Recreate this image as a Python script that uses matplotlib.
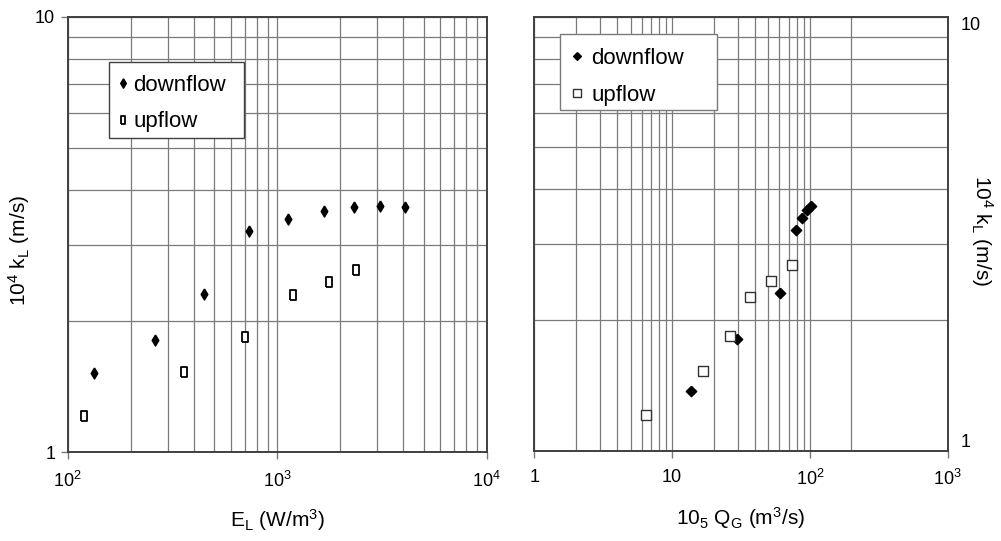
import numpy as np
import matplotlib
matplotlib.use("Agg")
import matplotlib.pyplot as plt
from matplotlib.patches import Rectangle
from matplotlib.ticker import FixedLocator, FixedFormatter, NullFormatter

plt.rcParams['font.family'] = ['Liberation Sans', 'DejaVu Sans']
plt.rcParams['mathtext.fontset'] = 'custom'
plt.rcParams['mathtext.rm'] = 'Liberation Sans'
plt.rcParams['mathtext.it'] = 'Liberation Sans'
plt.rcParams['mathtext.default'] = 'regular'

# --- data ---
# left panel: k_L against power input E_L
el_down = [134, 261, 449, 731, 1131, 1667, 2326, 3095, 4093]
kl_el_down = [1.52, 1.81, 2.31, 3.23, 3.44, 3.59, 3.66, 3.67, 3.66]
el_up = [120, 358, 702, 1195, 1761, 2388]
kl_el_up = [1.21, 1.53, 1.84, 2.30, 2.46, 2.62]

# right panel: k_L against gas flow Q_G
qg_down = [13.6, 29.7, 61.0, 79.3, 88.1, 95.3, 102.4]
kl_qg_down = [1.375, 1.81, 2.31, 3.23, 3.44, 3.59, 3.67]
qg_up = [6.47, 16.8, 26.2, 36.9, 52.5, 74.5]
kl_qg_up = [1.21, 1.53, 1.84, 2.26, 2.46, 2.68]

left_xticks = [1e2, 1e3, 1e4]
right_xticks = [1, 10, 100, 1000]
right_xticklabels = ['1', '10', '$10^2$', '$10^3$']
yticks = [1, 10]
yticklabels = ['1', '10']
right_xminor = [2, 3, 4, 5, 6, 7, 8, 9, 20, 30, 40, 50, 60, 70, 80, 90, 200]

# marker shapes
thin_diamond = [(0, 1), (0.6, 0), (0, -1), (-0.6, 0), (0, 1)]
thin_rect = [(-0.55, -1), (0.55, -1), (0.55, 1), (-0.55, 1), (-0.55, -1)]
diamond = [(0, 1), (1, 0), (0, -1), (-1, 0), (0, 1)]
square = [(-1, -1), (1, -1), (1, 1), (-1, 1), (-1, -1)]

GRID = '#7a7a7a'
SPINE = '#404040'

fig = plt.figure(figsize=(10.01, 5.41), dpi=100)
ax1 = fig.add_axes([0.0676, 0.1636, 0.4186, 0.8055])
ax2 = fig.add_axes([0.5338, 0.1669, 0.4130, 0.8022])


def style(ax):
    ax.set_xscale('log')
    ax.set_yscale('log')
    ax.set_ylim(1, 10)
    ax.yaxis.set_major_locator(FixedLocator(yticks))
    ax.yaxis.set_major_formatter(FixedFormatter(yticklabels))
    ax.yaxis.set_minor_locator(FixedLocator([2, 3, 4, 5, 6, 7, 8, 9]))
    ax.yaxis.set_minor_formatter(NullFormatter())
    ax.grid(True, which='both', color=GRID, linewidth=0.9)
    ax.set_axisbelow(True)
    for s in ax.spines.values():
        s.set_color(SPINE)
        s.set_linewidth(1.4)
    ax.tick_params(which='minor', length=0)
    ax.tick_params(which='major', length=5, width=1, color=GRID, labelsize=13)


def legend_box(ax, x0, y0, x1, y1, edge):
    # plain white box behind the legend entries, like the spreadsheet one
    ax.add_patch(Rectangle((x0, y0), x1 - x0, y1 - y0, transform=ax.transAxes,
                           facecolor='white', edgecolor=edge, linewidth=1.0,
                           zorder=4.5, clip_on=False))


# left panel
style(ax1)
ax1.set_xlim(1e2, 1e4)
ax1.xaxis.set_major_locator(FixedLocator(left_xticks))
ax1.xaxis.set_minor_locator(FixedLocator([m * d for d in (100, 1000) for m in range(2, 10)]))
ax1.xaxis.set_minor_formatter(NullFormatter())
ax1.tick_params(axis='x', which='major', pad=8)
ax1.tick_params(axis='y', which='major', pad=4)
ax1.plot(el_down, kl_el_down, linestyle='none', marker=thin_diamond, markersize=8,
         color='black', label='downflow')
ax1.plot(el_up, kl_el_up, linestyle='none', marker=thin_rect, markersize=7.5,
         markerfacecolor='white', markeredgecolor='black', markeredgewidth=1.3, label='upflow')
ax1.set_xlabel('E$_L$ (W/m$^3$)', fontsize=15, labelpad=12)
ax1.set_ylabel('10$^4$ k$_L$ (m/s)', fontsize=15)
ax1.yaxis.set_label_coords(-0.085, 0.463)
legend_box(ax1, 0.0986, 0.7217, 0.421, 0.896, SPINE)
ax1.legend(loc='upper left', bbox_to_anchor=(0.0986, 0.887), fontsize=16,
           frameon=False, handlelength=0.5, handletextpad=0.2, labelspacing=0.7,
           borderpad=0.4, borderaxespad=0, markerscale=0.85)

# right panel
style(ax2)
ax2.set_xlim(1, 1000)
ax2.xaxis.set_major_locator(FixedLocator(right_xticks))
ax2.xaxis.set_major_formatter(FixedFormatter(right_xticklabels))
ax2.xaxis.set_minor_locator(FixedLocator(right_xminor))
ax2.xaxis.set_minor_formatter(NullFormatter())
ax2.yaxis.tick_right()
ax2.yaxis.set_label_position('right')
ax2.tick_params(axis='y', which='major', length=0, pad=9)
ax2.tick_params(axis='x', which='major', pad=8)
for lab in ax2.get_yticklabels():
    lab.set_va('top' if lab.get_text() == '10' else 'bottom')
ax2.plot(qg_down, kl_qg_down, linestyle='none', marker=diamond, markersize=7.5,
         color='black', label='downflow')
ax2.plot(qg_up, kl_qg_up, linestyle='none', marker=square, markersize=6.8,
         markerfacecolor='white', markeredgecolor='#333333', markeredgewidth=1.0, label='upflow')
ax2.set_xlabel('10$_5$ Q$_G$ (m$^3$/s)', fontsize=15, labelpad=12)
ax2.set_ylabel('10$^4$ k$_L$ (m/s)', fontsize=15, rotation=270)
ax2.yaxis.set_label_coords(1.114, 0.508)
legend_box(ax2, 0.062, 0.785, 0.442, 0.960, GRID)
ax2.legend(loc='upper left', bbox_to_anchor=(0.062, 0.953), fontsize=16,
           frameon=False, handlelength=0.545, handletextpad=0.36, labelspacing=0.7,
           borderpad=0.5, borderaxespad=0, markerscale=0.75)

fig.savefig('out.png', dpi=100)
